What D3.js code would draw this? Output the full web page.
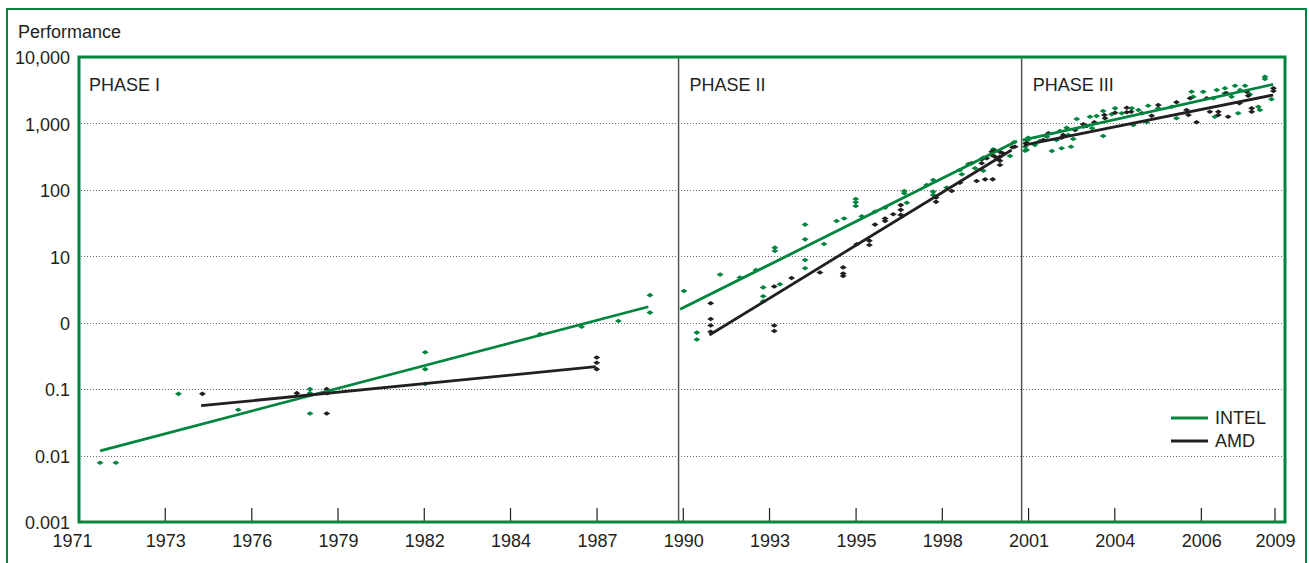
<!DOCTYPE html>
<html><head><meta charset="utf-8">
<script src="https://cdn.jsdelivr.net/npm/d3@7"></script>
<style>
html,body{margin:0;padding:0;background:#fff;}
svg{display:block;font-family:"Liberation Sans",Arial,Helvetica,sans-serif;}
</style></head>
<body>
<svg id="chart" width="1309" height="563"></svg>
<script>
// ---------- DATA ----------
const yTickValues = [0.001, 0.01, 0.1, 1, 10, 100, 1000, 10000];
const yTickLabels = ["0.001", "0.01", "0.1", "0", "10", "100", "1,000", "10,000"];
const xTickYears = [1971, 1973.74, 1976.49, 1979.23, 1981.97, 1984.71, 1987.46, 1990.20,
                    1992.94, 1995.69, 1998.43, 2001.17, 2003.91, 2006.66, 2009];
const xTickLabels = ["1971","1973","1976","1979","1982","1984","1987","1990",
                     "1993","1995","1998","2001","2004","2006","2009"];
const phaseNames = ["PHASE I", "PHASE II", "PHASE III"];
const phaseStarts = [1971, 1990.05, 2000.95];
const seriesNames = ["INTEL", "AMD"];

const intelPoints = [
  [1971.67,0.0078],[1972.17,0.0078],[1974.16,0.085],[1976.06,0.049],[1978.34,0.1],[1978.34,0.087],
  [1978.34,0.043],[1982.0,0.36],[1982.0,0.2],[1982.0,0.12],[1985.65,0.67],[1986.97,0.87],
  [1988.14,1.06],[1989.14,1.42],[1989.14,2.6],
  [1990.22,3.0],[1990.63,0.71],[1990.63,0.56],[1991.37,5.3],[1992.0,4.8],[1992.51,6.2],[1992.74,3.4],
  [1992.74,2.5],[1992.74,2.1],[1993.11,13.5],[1993.11,12.0],[1993.27,3.8],[1994.07,30],[1994.07,18],
  [1994.07,8.8],[1994.07,6.6],[1994.67,15.3],[1995.07,34],[1995.31,37],[1995.68,73],[1995.68,65],
  [1995.68,57],[1995.87,40],[1996.29,47],[1996.61,54],[1997.22,96],[1997.22,89],[1997.30,64],
  [1997.93,118],[1998.14,141],[1998.14,94],[1998.14,84],[1998.57,108],[1998.99,199],[1999.05,172],
  [1999.26,245],[1999.47,211],[1999.73,305],[1999.73,194],[2000.05,408],[2000.58,323],[2000.71,520],
  [2001.06,446],[2001.06,388],[2001.15,563],[2001.16,610],[2001.11,398],[2001.37,473],[2001.53,544],
  [2001.75,631],[2001.91,384],[2002.06,563],[2002.17,769],[2002.22,422],[2002.38,862],[2002.43,669],
  [2002.52,446],[2002.59,583],[2002.70,1166],[2002.91,893],[2003.12,1262],[2003.19,844],[2003.33,1293],
  [2003.54,1538],[2003.54,647],[2003.81,1372],[2003.92,1689],[2004.13,1420],[2004.45,1689],[2004.50,947],
  [2004.66,1592],[2004.92,1040],[2004.97,1849],[2005.29,1689],[2005.72,1785],[2005.87,1194],[2006.35,3003],
  [2006.40,2525],[2006.72,3003],[2007.04,2389],[2007.09,1262],[2007.15,3185],[2007.41,3379],[2007.41,2841],
  [2007.62,2525],[2007.73,3697],[2007.83,1420],[2007.89,3185],[2008.05,3697],[2008.20,2744],[2008.47,1785],
  [2008.52,1592],[2008.68,5050],[2008.68,4664],[2008.89,2307]
];
const amdPoints = [
  [1974.92,0.085],[1977.92,0.087],[1978.87,0.1],[1978.89,0.087],[1978.87,0.043],[1987.45,0.30],
  [1987.45,0.25],[1987.45,0.2],
  [1991.07,1.96],[1991.07,1.14],[1991.07,0.91],[1991.07,0.73],[1993.09,3.5],[1993.09,0.91],[1993.09,0.75],
  [1993.64,4.7],[1994.54,5.7],[1995.28,6.8],[1995.28,5.5],[1995.28,5.05],[1995.71,15.2],[1996.11,17.2],
  [1996.11,14.8],[1996.29,30],[1996.61,37],[1996.61,34],[1996.87,43],[1997.11,59],[1997.11,50],
  [1997.11,42],[1998.23,77],[1998.23,66],[1998.73,96],[1998.99,128],[1999.36,251],[1999.52,136],
  [1999.79,144],[2000.03,144],[1999.68,288],[1999.68,251],[1999.84,299],[2000.0,375],[2000.0,335],
  [2000.10,388],[2000.10,316],[2000.26,375],[2000.26,316],[2000.26,275],[2000.26,237],[2000.35,355],
  [2000.66,437],[2001.08,502],
  [2000.74,446],[2001.11,502],[2001.64,563],[2001.80,710],[2002.22,610],[2002.27,669],[2002.65,796],
  [2002.91,970],[2003.02,914],[2003.26,1040],[2003.58,1339],[2003.60,1194],[2003.92,1450],[2004.29,1724],
  [2004.29,1470],[2004.43,1501],[2004.77,1420],[2005.08,1307],[2005.29,1894],[2005.87,2079],[2006.19,1592],
  [2006.25,1339],[2006.30,2389],[2006.51,1040],[2006.83,2389],[2006.93,1501],[2007.20,1501],[2007.20,1339],
  [2007.46,2841],[2007.51,1262],[2007.87,2009],[2008.10,3003],[2008.15,2615],[2008.26,1689],[2008.26,1501],
  [2008.95,3379],[2008.95,3076]
];
const intelTrend = [
  [[1971.67,0.0118],[1989.09,1.74]],
  [[1990.10,1.59],[2000.80,544]],
  [[2000.98,560],[2008.94,3880]]
];
const amdTrend = [
  [[1974.88,0.0563],[1987.42,0.218]],
  [[1991.03,0.653],[2000.63,398]],
  [[2001.02,473],[2008.94,2678]]
];

// ---------- DRAW ----------
const GREEN = "#00853f", BLACK = "#231f20";
const svg = d3.select("#chart");
const L = 79, R = 1285, T = 57, B = 522;
const x = d3.scaleLinear().domain([1971, 2009]).range([L, 1275]);
const y = d3.scaleLog().domain([0.001, 10000]).range([B, T]);

// outer frame
svg.append("rect").attr("x", 7).attr("y", 9).attr("width", 1299).attr("height", 570)
  .attr("fill", "none").attr("stroke", GREEN).attr("stroke-width", 2);

svg.append("text").attr("x", 18).attr("y", 38).attr("font-size", 18).attr("fill", BLACK)
  .text("Performance");

// gridlines
svg.append("g").selectAll("line").data(yTickValues.slice(1, -1)).join("line")
  .attr("x1", L + 2).attr("x2", R - 1)
  .attr("y1", d => Math.round(y(d)) + 0.5).attr("y2", d => Math.round(y(d)) + 0.5)
  .attr("stroke", "#6d6d6d").attr("stroke-width", 1).attr("stroke-dasharray", "1,2");

// y axis labels
const yAxis = d3.axisLeft(y).tickValues(yTickValues)
  .tickFormat((d, i) => yTickLabels[i]).tickSize(0).tickPadding(9);
const gy = svg.append("g").attr("transform", `translate(${L},0)`).call(yAxis);
gy.select(".domain").remove();
gy.selectAll("text").attr("font-size", 18).attr("fill", BLACK)
  .attr("font-family", '"Liberation Sans",Arial,sans-serif').attr("dy", "0.38em");

// phase dividers
svg.append("g").selectAll("line").data(phaseStarts.slice(1)).join("line")
  .attr("x1", d => x(d)).attr("x2", d => x(d)).attr("y1", T).attr("y2", B)
  .attr("stroke", "#555").attr("stroke-width", 1.5);

// phase labels
svg.append("g").selectAll("text").data(phaseNames).join("text")
  .attr("x", (d, i) => x(phaseStarts[i]) + (i === 0 ? 10 : 11))
  .attr("y", 91).attr("font-size", 18).attr("fill", BLACK).text(d => d);

// points
const marker = "M-3.5,0L0,-2.3L3.5,0L0,2.3Z";
function drawPoints(data, color) {
  svg.append("g").selectAll("path").data(data).join("path")
    .attr("d", marker)
    .attr("transform", d => `translate(${x(d[0])},${y(d[1])})`)
    .attr("fill", color);
}
drawPoints(intelPoints, GREEN);
drawPoints(amdPoints, BLACK);

// trend lines
const line = d3.line().x(d => x(d[0])).y(d => y(d[1]));
function drawTrend(segs, color) {
  svg.append("g").selectAll("path").data(segs).join("path")
    .attr("d", line).attr("fill", "none").attr("stroke", color).attr("stroke-width", 2.8);
}
drawTrend(intelTrend, GREEN);
drawTrend(amdTrend, BLACK);

// x ticks (inside)
svg.append("g").selectAll("line").data(xTickYears.slice(1)).join("line")
  .attr("x1", d => x(d)).attr("x2", d => x(d)).attr("y1", B).attr("y2", B - 14)
  .attr("stroke", BLACK).attr("stroke-width", 1.2);

// x labels
const xAxis = d3.axisBottom(x).tickValues(xTickYears)
  .tickFormat((d, i) => xTickLabels[i]).tickSize(0).tickPadding(12);
const gx = svg.append("g").attr("transform", `translate(0,${B})`).call(xAxis);
gx.select(".domain").remove();
gx.selectAll("text").attr("font-size", 18).attr("fill", BLACK)
  .attr("font-family", '"Liberation Sans Narrow","Arial Narrow","Liberation Sans",sans-serif')
  .attr("dx", (d, i) => i === 0 ? -7 : 0);

// plot frame
svg.append("path")
  .attr("d", `M${L},${B}V${T}H${R}V${B}Z`)
  .attr("fill", "none").attr("stroke", GREEN).attr("stroke-width", 3);

// legend
const lg = svg.append("g").selectAll("g").data(seriesNames).join("g")
  .attr("transform", (d, i) => `translate(1171,${418 + i * 23})`);
lg.append("line").attr("x1", 0).attr("x2", 37).attr("y1", 0).attr("y2", 0)
  .attr("stroke", (d, i) => i === 0 ? GREEN : BLACK).attr("stroke-width", 2.8);
lg.append("text").attr("x", 44).attr("y", 6).attr("font-size", 18).attr("fill", BLACK)
  .text(d => d);
</script>
</body></html>
